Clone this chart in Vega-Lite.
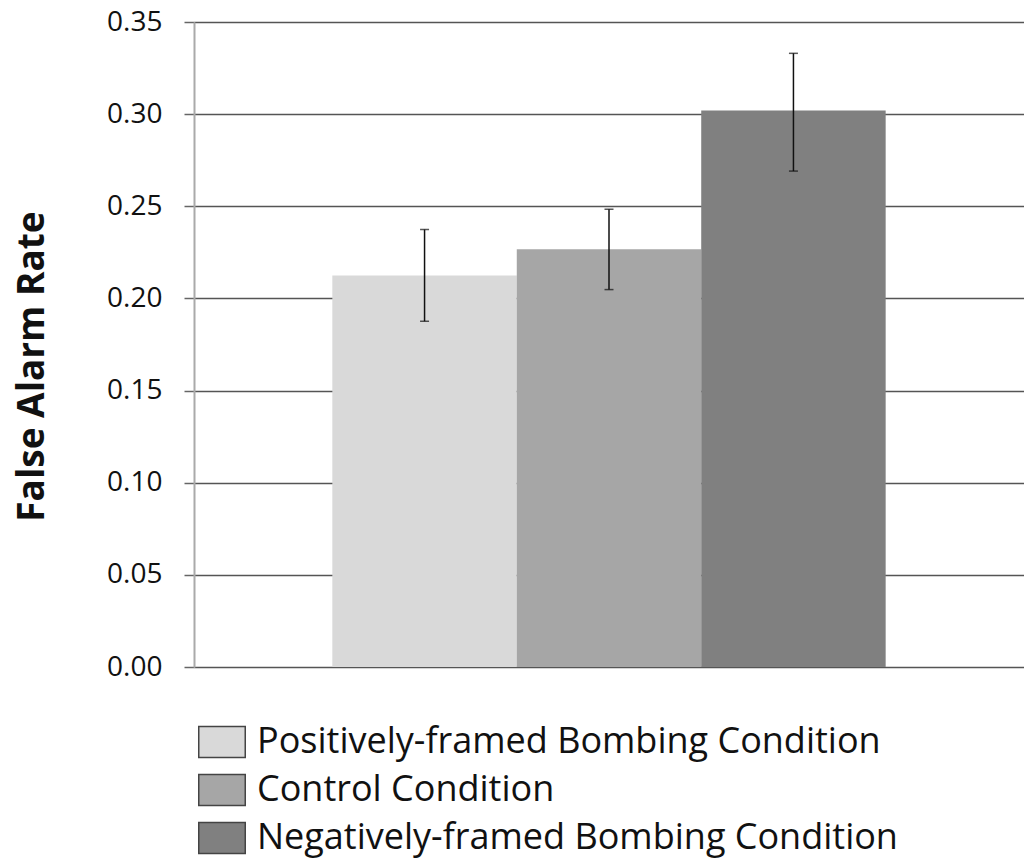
{
  "$schema": "https://vega.github.io/schema/vega-lite/v6.json",
  "width": 830,
  "height": 645,
  "autosize": {"type": "none"},
  "padding": {"left": 194, "top": 22, "right": 0, "bottom": 197},
  "background": "white",
  "config": {
    "view": {"stroke": null},
    "font": "Open Sans"
  },
  "data": {
    "values": [
      {"condition": "Positively-framed Bombing Condition", "rate": 0.2124, "lo": 0.1876, "hi": 0.2374},
      {"condition": "Control Condition", "rate": 0.2267, "lo": 0.2048, "hi": 0.2484},
      {"condition": "Negatively-framed Bombing Condition", "rate": 0.302, "lo": 0.2691, "hi": 0.333}
    ]
  },
  "encoding": {
    "x": {
      "field": "condition",
      "type": "nominal",
      "sort": null,
      "scale": {"paddingInner": 0, "paddingOuter": 0.75},
      "axis": null
    }
  },
  "layer": [
    {
      "mark": {"type": "bar"},
      "encoding": {
        "y": {
          "field": "rate",
          "type": "quantitative",
          "scale": {"domain": [0, 0.35], "nice": false},
          "axis": {
            "title": "False Alarm Rate",
            "titleFont": "Open Sans",
            "titleFontSize": 37,
            "titleFontWeight": "bold",
            "titleColor": "#111",
            "titleX": -151,
            "titleY": 344,
            "titleAngle": -90,
            "titleAlign": "center",
            "titleBaseline": "alphabetic",
            "values": [0, 0.05, 0.1, 0.15, 0.2, 0.25, 0.3, 0.35],
            "format": ".2f",
            "labelFontSize": 28,
            "labelColor": "#111",
            "labelPadding": 22,
            "tickSize": 10,
            "tickColor": "#666",
            "tickWidth": 1.5,
            "domainColor": "#aaa",
            "domainWidth": 2,
            "grid": true,
            "gridColor": "#555",
            "gridWidth": 1.5
          }
        },
        "color": {
          "field": "condition",
          "type": "nominal",
          "sort": null,
          "scale": {
            "domain": ["Positively-framed Bombing Condition", "Control Condition", "Negatively-framed Bombing Condition"],
            "range": ["#d9d9d9", "#a6a6a6", "#808080"]
          },
          "legend": {
            "title": null,
            "orient": "none",
            "legendX": 10,
            "legendY": 702,
            "direction": "vertical",
            "padding": 0,
            "symbolType": "M-1.5,-1H1.5V1H-1.5Z",
            "symbolSize": 961,
            "symbolStrokeColor": "#444",
            "symbolStrokeWidth": 1.5,
            "symbolOpacity": 1,
            "labelFontSize": 36,
            "labelColor": "#111",
            "labelOffset": 17,
            "labelLimit": 800,
            "rowPadding": 10
          }
        }
      }
    },
    {
      "mark": {"type": "rule", "color": "#111", "strokeWidth": 1.5},
      "encoding": {
        "y": {"field": "lo", "type": "quantitative"},
        "y2": {"field": "hi"}
      }
    },
    {
      "mark": {"type": "tick", "color": "#111", "thickness": 1.5, "size": 9, "orient": "horizontal"},
      "encoding": {"y": {"field": "lo", "type": "quantitative"}}
    },
    {
      "mark": {"type": "tick", "color": "#111", "thickness": 1.5, "size": 9, "orient": "horizontal"},
      "encoding": {"y": {"field": "hi", "type": "quantitative"}}
    }
  ]
}
